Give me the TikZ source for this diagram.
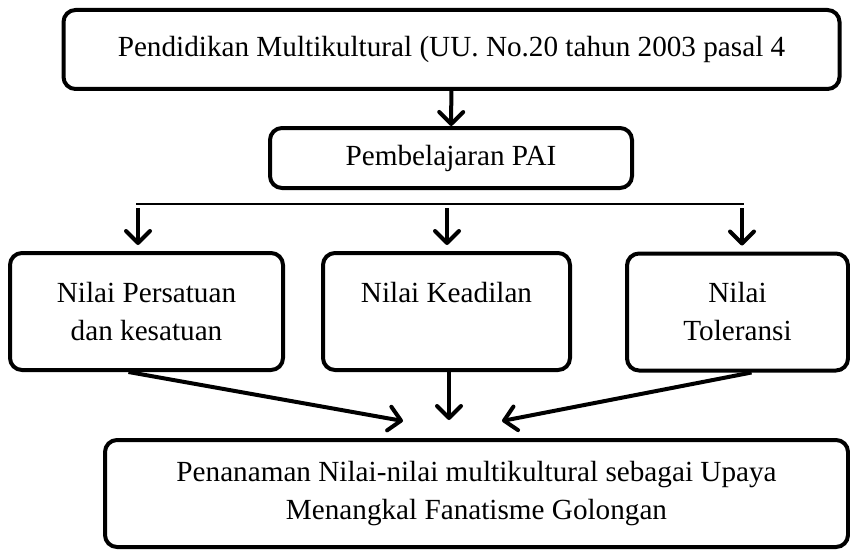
\documentclass[tikz,border=0pt]{standalone}
\usepackage{fontspec}
\setmainfont{Liberation Serif}
\usetikzlibrary{arrows.meta}

\begin{document}
\begin{tikzpicture}[x=0.5pt,y=-0.5pt]
\tikzstyle{mainbox} = [rectangle, rounded corners=6pt, draw=black, line width=2pt, align=center, font=\fontsize{14.6}{19}\selectfont]
\tikzstyle{flowarrow} = [line width=2pt, -{Straight Barb[length=6pt,width=12pt,line width=2pt,round]}]
\useasboundingbox (0,0) rectangle (850,551);

\node(pendidikan) [mainbox, minimum width=388pt, minimum height=39.5pt] at (451.5,49.5) {Pendidikan Multikultural (UU. No.20 tahun 2003 pasal 4};
\node(pai) [mainbox, minimum width=181pt, minimum height=30pt] at (451,158) {Pembelajaran PAI};
\node(persatuan) [mainbox, minimum width=136.5pt, minimum height=58.5pt] at (146.5,311.5) {Nilai Persatuan\\dan kesatuan};
\node(keadilan) [mainbox, minimum width=123.5pt, minimum height=58.5pt] at (446.5,311.5) {Nilai Keadilan\\\mbox{}};
\node(toleransi) [mainbox, minimum width=110.5pt, minimum height=58.5pt] at (737.5,312) {Nilai\\Toleransi};
\node(penanaman) [mainbox, minimum width=371.5pt, minimum height=53.5pt] at (476.5,493.5) {Penanaman Nilai-nilai multikultural sebagai Upaya\\Menangkal Fanatisme Golongan};

\coordinate(branchL) at (138,204);
\coordinate(branchM) at (447,204);
\coordinate(branchR) at (742,204);
\coordinate(tipL) at (403,421);
\coordinate(tipM) at (449,420);
\coordinate(tipR) at (502,421);

\draw[flowarrow] (pendidikan) -- (pai);
\draw[line width=0.8pt] ([xshift=-1pt]branchL) -- ([xshift=1pt]branchR);
\draw[flowarrow, shorten <=2pt, shorten >=3pt] (branchL) -- (branchL |- persatuan.north);
\draw[flowarrow, shorten <=2pt, shorten >=3pt] (branchM) -- (branchM |- keadilan.north);
\draw[flowarrow, shorten <=2pt, shorten >=3pt] (branchR) -- (branchR |- toleransi.north);
\draw[flowarrow] ([xshift=-9pt]persatuan.south) -- (tipL);
\draw[flowarrow] (keadilan.south -| tipM) -- (tipM);
\draw[flowarrow] ([xshift=7pt]toleransi.south) -- (tipR);
\end{tikzpicture}
\end{document}
